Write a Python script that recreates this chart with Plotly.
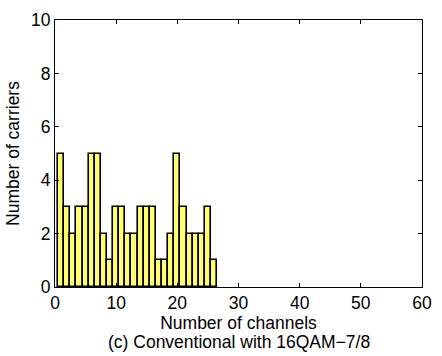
import plotly.graph_objects as go

channels = list(range(1, 27))
carriers = [5, 3, 2, 3, 3, 5, 5, 2, 1, 3, 3, 2, 2, 3, 3, 3, 1, 1, 2, 5, 3, 2, 2, 2, 3, 1]
x_ticks = [0, 10, 20, 30, 40, 50, 60]
y_ticks = [0, 2, 4, 6, 8, 10]

fig = go.Figure()
fig.add_trace(go.Bar(
    x=channels, y=carriers, width=1.0,
    marker=dict(color="#ffff70", line=dict(color="black", width=1.6)),
))

font = dict(family="Liberation Sans, Arial, sans-serif", size=17.5, color="black")
axis_common = dict(
    showgrid=False, zeroline=False, showline=True, linecolor="black", linewidth=1,
    mirror="ticks", ticks="inside", ticklen=4, tickcolor="black", tickfont=font,
)
fig.update_layout(
    width=442, height=356,
    margin=dict(l=55, r=10, t=15, b=69),
    paper_bgcolor="white", plot_bgcolor="white",
    showlegend=False, font=font, bargap=0,
    xaxis=dict(range=[0, 60], tickvals=x_ticks, title=dict(text="Number of channels", font=font, standoff=0), **axis_common),
    yaxis=dict(range=[0, 10], tickvals=y_ticks, title=dict(text="Number of carriers", font=font, standoff=6), **axis_common),
    annotations=[dict(text="(c) Conventional with 16QAM\u22127/8", xref="paper", yref="paper",
                      x=0.5, y=0, yshift=-43, xanchor="center", yanchor="top",
                      showarrow=False, font=font)],
)
fig.write_html("out.html", config={"displayModeBar": False},
               post_script="document.body.style.margin='0';")
